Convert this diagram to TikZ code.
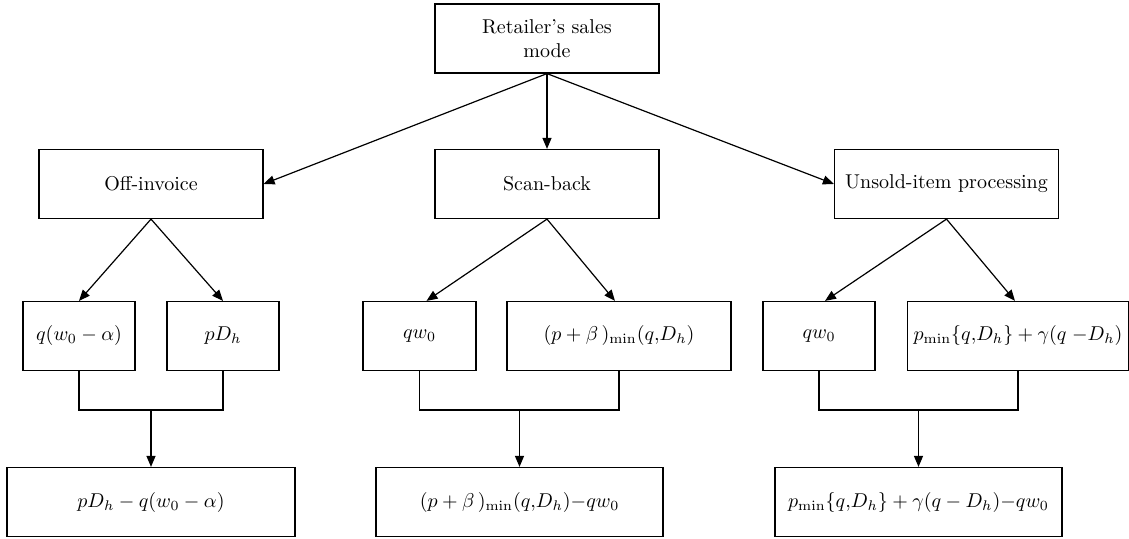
\documentclass[tikz,border=0pt]{standalone}
\usepackage{tikz}
\usetikzlibrary{arrows.meta}

\begin{document}
\begin{tikzpicture}[x=0.5pt,y=-0.5pt,line width=0.6pt,>={Triangle[length=5.5pt,width=4.5pt]}]
\tikzstyle{box}=[draw,line width=0.6pt,minimum height=34.5pt,inner sep=1pt,font=\fontsize{10}{12}\selectfont,align=center]
\useasboundingbox (0,0) rectangle (1129,539);
\node[box,minimum width=112pt] (mode) at (547,38.5) {Retailer's sales\\mode};
\node[box,minimum width=112pt] (off) at (151,184) {Off-invoice};
\node[box,minimum width=112pt] (scan) at (547,184) {Scan-back};
\node[box,minimum width=112pt] (unsold) at (946.5,184) {Unsold-item processing};
\node[box,minimum width=56pt] (offq) at (79,336) {$q(w_0 - \alpha)$};
\node[box,minimum width=56pt] (offp) at (223,336) {$pD_h$};
\node[box,minimum width=56.5pt] (scanq) at (419.5,336) {$qw_0$};
\node[box,minimum width=112pt] (scanp) at (619,336) {$(p + \beta\,)_{\min}(q{,}D_h)$};
\node[box,minimum width=56pt] (unsq) at (819,336) {$qw_0$};
\node[box,minimum width=110.5pt] (unsp) at (1018,336) {$p_{\min}\{q{,}D_h\} + \gamma(q\;{-}D_h)$};
\node[box,minimum width=144pt] (offres) at (151,502) {$pD_h - q(w_0 - \alpha)$};
\node[box,minimum width=143.5pt] (scanres) at (519.5,502) {$(p + \beta\,)_{\min}(q{,}D_h){-}qw_0$};
\node[box,minimum width=143.5pt] (unsres) at (918.5,502) {$p_{\min}\{q{,}D_h\} + \gamma(q - D_h){-}qw_0$};
\draw[->] (mode.south) -- (off.east);
\draw[->] (mode.south) -- (scan.north);
\draw[->] (mode.south) -- (unsold.west);
\draw[->] (off.south) -- (offq.north);
\draw[->] (off.south) -- (offp.north);
\draw[->] (scan.south) -- ([xshift=3.5pt]scanq.north);
\draw[->] (scan.south) -- ([xshift=-2pt]scanp.north);
\draw[->] (unsold.south) -- ([xshift=3pt]unsq.north);
\draw[->] (unsold.south) -- ([xshift=-1.5pt]unsp.north);
\draw (offq.south) |- (151,410) coordinate (offj) -| (offp.south);
\draw (scanq.south) |- (519.5,410) coordinate (scanj) -| (scanp.south);
\draw (unsq.south) |- (918.5,410) coordinate (unsj) -| (unsp.south);
\draw[->] (offj) -- (offres.north);
\draw[->] (scanj) -- (scanres.north);
\draw[->] (unsj) -- (unsres.north);
\end{tikzpicture}
\end{document}
